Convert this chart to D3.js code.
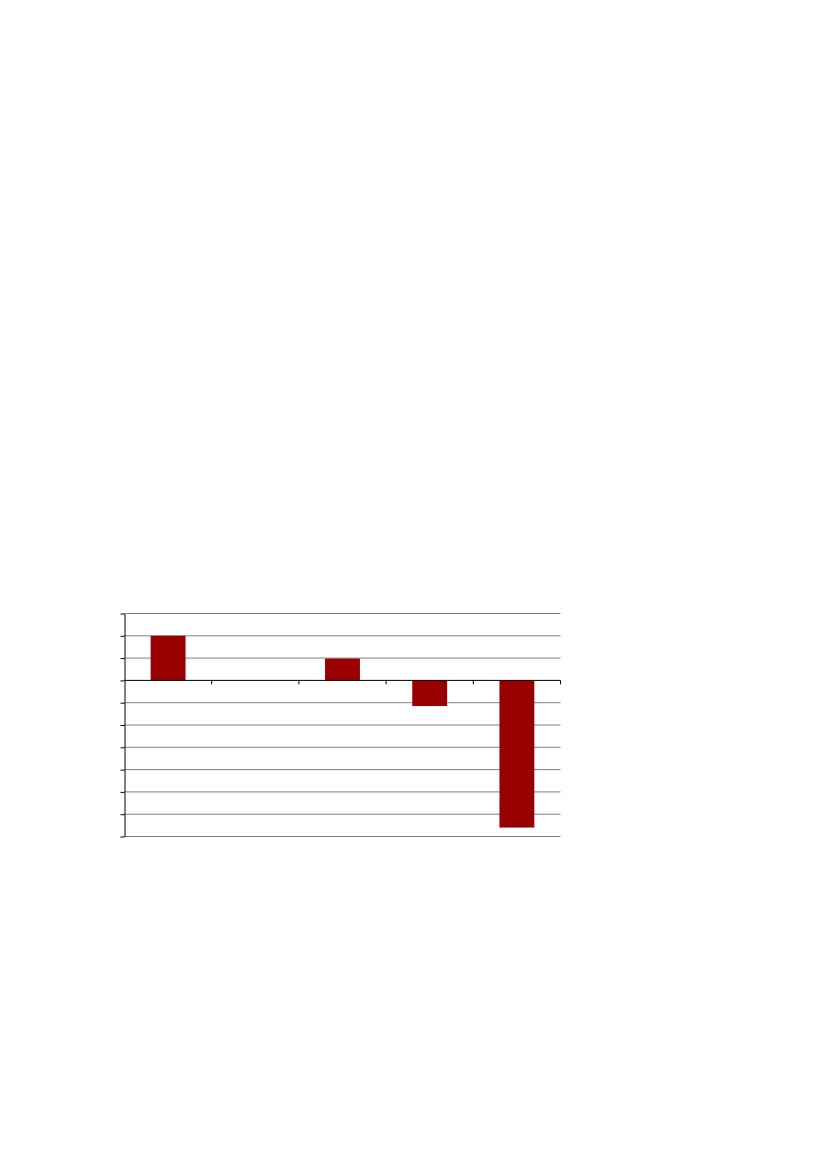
<!DOCTYPE html>
<html>
<head>
<meta charset="utf-8">
<script src="https://cdn.jsdelivr.net/npm/d3@7"></script>
<style>
  html, body { margin: 0; padding: 0; background: #fff; }
  svg { display: block; }
</style>
</head>
<body>
<div id="chart"></div>
<script>
// Chart data (no category labels are shown in the original)
const categories = ['c1', 'c2', 'c3', 'c4', 'c5'];
const values = [2, 0, 0.98, -1.15, -6.6];
const yTicks = [3, 2, 1, 0, -1, -2, -3, -4, -5, -6, -7];

const width = 827;
const height = 1169;

// plot area
const plotLeft = 124.5, plotRight = 560.5, plotTop = 613.5, plotBottom = 836.5;

const svg = d3.select('#chart')
    .append('svg')
    .attr('width', width)
    .attr('height', height);

const x = d3.scaleBand()
    .domain(categories)
    .range([plotLeft, plotRight])
    .paddingInner(0.6)
    .paddingOuter(0.3);

const y = d3.scaleLinear()
    .domain([3, -7])
    .range([plotTop, plotBottom]);

// Horizontal gridlines
svg.append('g')
    .selectAll('line')
    .data(yTicks.filter(d => d !== 0))
    .enter()
    .append('line')
    .attr('x1', plotLeft)
    .attr('x2', plotRight)
    .attr('y1', d => y(d))
    .attr('y2', d => y(d))
    .attr('stroke', '#808080')
    .attr('stroke-width', 1);

// Bars
svg.append('g')
    .selectAll('rect')
    .data(values)
    .enter()
    .append('rect')
    .attr('x', (d, i) => x(categories[i]))
    .attr('y', d => y(Math.max(0, d)))
    .attr('width', x.bandwidth())
    .attr('height', d => Math.abs(y(d) - y(0)))
    .attr('fill', '#990000');

// Y axis (ticks only, no labels)
const yAxis = d3.axisLeft(y)
    .tickValues(yTicks)
    .tickSize(4)
    .tickSizeOuter(0)
    .tickFormat('');

svg.append('g')
    .attr('transform', `translate(${plotLeft},0)`)
    .call(yAxis)
    .call(g => g.select('.domain').attr('stroke', '#000'))
    .call(g => g.selectAll('.tick line').attr('stroke', '#000'));

// X axis at zero, tick marks between categories
const xTickPos = d3.range(1, categories.length + 1)
    .map(i => plotLeft + i * (plotRight - plotLeft) / categories.length);

const xg = svg.append('g');
xg.append('line')
    .attr('x1', plotLeft)
    .attr('x2', plotRight)
    .attr('y1', y(0))
    .attr('y2', y(0))
    .attr('stroke', '#000')
    .attr('stroke-width', 1);

xg.selectAll('line.tick')
    .data(xTickPos)
    .enter()
    .append('line')
    .attr('class', 'tick')
    .attr('x1', d => d)
    .attr('x2', d => d)
    .attr('y1', y(0))
    .attr('y2', y(0) + 4)
    .attr('stroke', '#000');
</script>
</body>
</html>
